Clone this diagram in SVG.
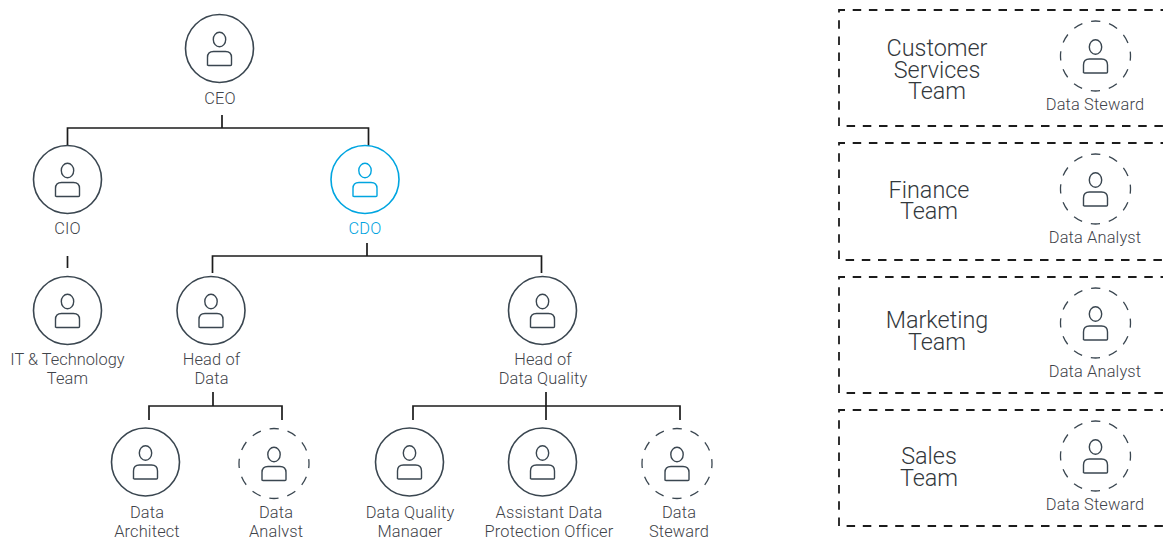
<svg xmlns="http://www.w3.org/2000/svg" xmlns:xlink="http://www.w3.org/1999/xlink" width="1163" height="537" viewBox="0 0 1163 537">
<style>
text{font-family:"Roboto","Liberation Sans",sans-serif;font-weight:300;font-size:16.4px;letter-spacing:.15px;fill:#3f444a;text-anchor:middle}
.big{font-size:23.4px;letter-spacing:0;fill:#33383c}
.blue{fill:#00a3e0}
.ring{fill:none;stroke:#3a4650;stroke-width:1.6}
.dash{stroke-dasharray:9.300 9.020;stroke-dashoffset:4.650;stroke-width:1.3}
.ic{fill:none;stroke:#3a4650;stroke-width:1.4}
.cb{stroke:#00a5e0}
.conn{fill:none;stroke:#1c1c1c;stroke-width:1.7}
.frame{fill:none;stroke:#1c1c1c;stroke-width:1.8;stroke-dasharray:8.500 7.700;stroke-dashoffset:6}
</style>
<defs>
<g id="p"><ellipse cx="0" cy="-9" rx="6.200" ry="7.200"/><path d="M-12 17V9Q-12 3-6 3H6Q12 3 12 9V16Q12 17 11 17H-11Q-12 17-12 16Z"/></g>
</defs>
<g id="connectors" class="conn">
<path d="M222 115V128M67.500 146V128H368.500V146"/>
<path d="M67.500 256V268"/>
<path d="M367 243V256M212.500 273V256H541.500V273"/>
<path d="M213 392V406M149 420V406H282V420"/>
<path d="M546 392V420M413 420V406H680V420"/>
</g>
<g id="ceo"><circle class="ring" cx="219.500" cy="48.500" r="34"/><use href="#p" x="219.500" y="48.500" class="ic"/><text x="220" y="104">CEO</text></g>
<g id="cio"><circle class="ring" cx="67.500" cy="179.500" r="34"/><use href="#p" x="67.500" y="179.500" class="ic"/><text x="67.500" y="234">CIO</text></g>
<g id="cdo"><circle class="ring cb" cx="365" cy="179.500" r="34"/><use href="#p" x="365" y="179.500" class="ic cb"/><text class="blue" x="365" y="234">CDO</text></g>
<g id="it"><circle class="ring" cx="67.500" cy="310.500" r="34"/><use href="#p" x="67.500" y="310.500" class="ic"/><text x="67.500" y="365" style="letter-spacing:0">IT &amp; Technology</text><text x="67.500" y="384">Team</text></g>
<g id="head-data"><circle class="ring" cx="211" cy="310.500" r="34"/><use href="#p" x="211" y="310.500" class="ic"/><text x="211.500" y="365">Head of</text><text x="211.500" y="384">Data</text></g>
<g id="head-dq"><circle class="ring" cx="542.500" cy="310.500" r="34"/><use href="#p" x="542.500" y="310.500" class="ic"/><text x="543" y="365">Head of</text><text x="543" y="384">Data Quality</text></g>
<g id="architect"><circle class="ring" cx="145.500" cy="462" r="34"/><use href="#p" x="145.500" y="462" class="ic"/><text x="147" y="518">Data</text><text x="147" y="537">Architect</text></g>
<g id="analyst"><circle class="ring dash" cx="274" cy="463.500" r="35"/><use href="#p" x="274" y="463.500" class="ic"/><text x="276" y="518">Data</text><text x="276" y="537">Analyst</text></g>
<g id="dqm"><circle class="ring" cx="409.500" cy="462" r="34"/><use href="#p" x="409.500" y="462" class="ic"/><text x="410" y="518">Data Quality</text><text x="410" y="537">Manager</text></g>
<g id="adpo"><circle class="ring" cx="542.500" cy="462" r="34"/><use href="#p" x="542.500" y="462" class="ic"/><text x="549" y="518">Assistant Data</text><text x="549" y="537">Protection Officer</text></g>
<g id="steward"><circle class="ring dash" cx="677" cy="463.500" r="35"/><use href="#p" x="677" y="463.500" class="ic"/><text x="679" y="518">Data</text><text x="679" y="537">Steward</text></g>
<g id="customer"><path class="frame" d="M1163 10H839V126H1163"/><text class="big" x="937" y="56">Customer</text><text class="big" x="937" y="78">Services</text><text class="big" x="937" y="99">Team</text><circle class="ring dash" cx="1095.500" cy="56" r="35"/><use href="#p" x="1095.500" y="56" class="ic"/><text x="1095" y="110">Data Steward</text></g>
<g id="finance"><path class="frame" d="M1163 143H839V260H1163"/><text class="big" x="929" y="198">Finance</text><text class="big" x="929" y="219">Team</text><circle class="ring dash" cx="1095.500" cy="189" r="35"/><use href="#p" x="1095.500" y="189" class="ic"/><text x="1095" y="243">Data Analyst</text></g>
<g id="marketing"><path class="frame" d="M1163 277H839V393H1163"/><text class="big" x="937" y="328">Marketing</text><text class="big" x="937" y="350">Team</text><circle class="ring dash" cx="1095.500" cy="323" r="35"/><use href="#p" x="1095.500" y="323" class="ic"/><text x="1095" y="377">Data Analyst</text></g>
<g id="sales"><path class="frame" d="M1163 410H839V526H1163"/><text class="big" x="929" y="464">Sales</text><text class="big" x="929" y="486">Team</text><circle class="ring dash" cx="1095.500" cy="456" r="35"/><use href="#p" x="1095.500" y="456" class="ic"/><text x="1095" y="510">Data Steward</text></g>
</svg>
